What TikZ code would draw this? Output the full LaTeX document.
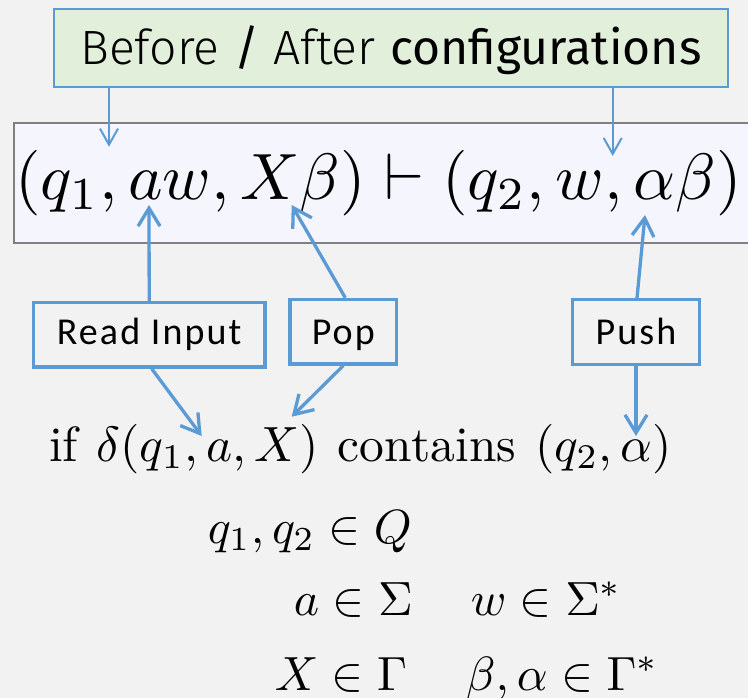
\documentclass[tikz,border=0pt]{standalone}
\usepackage{fontspec}
\usetikzlibrary{arrows.meta}
\newfontfamily\lblfont{Carlito}[LetterSpace=5.5]
\newfontfamily\firalight{Fira Sans Light}
\newfontfamily\firareg{Fira Sans}
\definecolor{bgc}{HTML}{F2F2F2}
\definecolor{oblue}{HTML}{5B9BD5}
\definecolor{ogreen}{HTML}{E2EFDA}
\definecolor{lav}{HTML}{F5F5FE}
\definecolor{framegray}{HTML}{7F7F7F}
\tikzset{
  topbox/.style={draw=oblue, line width=2pt, fill=ogreen, inner sep=0pt,
    minimum width=673.7pt, minimum height=77.7pt, text height=35.5pt, text depth=1.2pt,
    font=\fontsize{48.1}{54}\selectfont},
  cfgbox/.style={draw=framegray, line width=2pt, fill=lav, inner sep=0pt, anchor=north west,
    minimum width=760pt, minimum height=119.4pt},
  lblbox/.style={draw=oblue, line width=3.3pt, inner sep=0pt, font=\lblfont\fontsize{38}{44}\selectfont,
    text height=26pt, text depth=1pt, minimum height=64.5pt},
  bigmath/.style={inner sep=0pt, anchor=base, scale=6.55},
  lowmath/.style={inner sep=0pt, scale=4.8},
  thinarr/.style={draw=oblue, line width=2pt, -{Straight Barb[length=16pt,width=18pt]}},
  thickarr/.style={draw=oblue, line width=3.3pt, -{Straight Barb[length=18pt,width=22pt]}},
}
\begin{document}
\begin{tikzpicture}[x=1pt,y=-1pt]
\fill[bgc] (0,0) rectangle (748,698);
\useasboundingbox (0,0) rectangle (748,698);

% boxes
\node[topbox] (top) at (390.85,47.85)
  {{\firalight Before} {\firareg /} {\firalight After} {\firareg configurations}};
\node[cfgbox] (cfg) at (13.3,122.3) {};
\node[bigmath] (formula) at (378.3,200) {$(q_1, aw, X\beta) \vdash (q_2, w, \alpha\beta)$};

\node[lblbox, minimum width=231.7pt, text depth=6pt] (read) at (149.2,334.8) {Read Input};
\node[lblbox, minimum width=106.7pt] (pop) at (343.3,331.7) {Pop};
\node[lblbox, minimum width=126.6pt] (push) at (636,332) {Push};

% lower text
\node[inner sep=0pt, scale=4.95, anchor=base] (cond) at (360.5,461)
  {$\mathrm{if}\hspace{3.8pt}\delta(q_1, a, X)\hspace{3.8pt}\mathrm{contains}\hspace{3.8pt}(q_2, \alpha)$};
\node[lowmath, anchor=base west] (rowq) at (207,543) {$q_1, q_2 \in Q$};
\node[lowmath, anchor=base west] (rowa) at (293,615) {$a \in \Sigma$};
\node[lowmath, anchor=base west] (roww) at (470,615) {$w \in \Sigma^*$};
\node[lowmath, anchor=base west] (rowx) at (274,690) {$X \in \Gamma$};
\node[lowmath, anchor=base west] (rowb) at (465,690) {$\beta, \alpha \in \Gamma^*$};

% arrow targets
\coordinate (t1) at (109,146.7);
\coordinate (t2) at (612.7,156);
\coordinate (ta) at (149,205);
\coordinate (tx) at (291.7,205);
\coordinate (tal) at (645,215);
\coordinate (da) at (201.7,436);
\coordinate (dx) at (291.7,416.7);
\coordinate (dal) at (636,436);

\draw[thinarr] (top.south -| t1) -- (t1);
\draw[thinarr] (top.south -| t2) -- (t2);
\draw[thickarr] (read.north) -- (ta);
\draw[thickarr] ([xshift=2pt]pop.north) -- (tx);
\draw[thickarr] ([xshift=1pt]push.north) -- (tal);
\draw[thickarr] ([xshift=2.5pt]read.south) -- (da);
\draw[thickarr] (pop.south) -- (dx);
\draw[thickarr] (push.south) -- (dal);
\end{tikzpicture}
\end{document}
